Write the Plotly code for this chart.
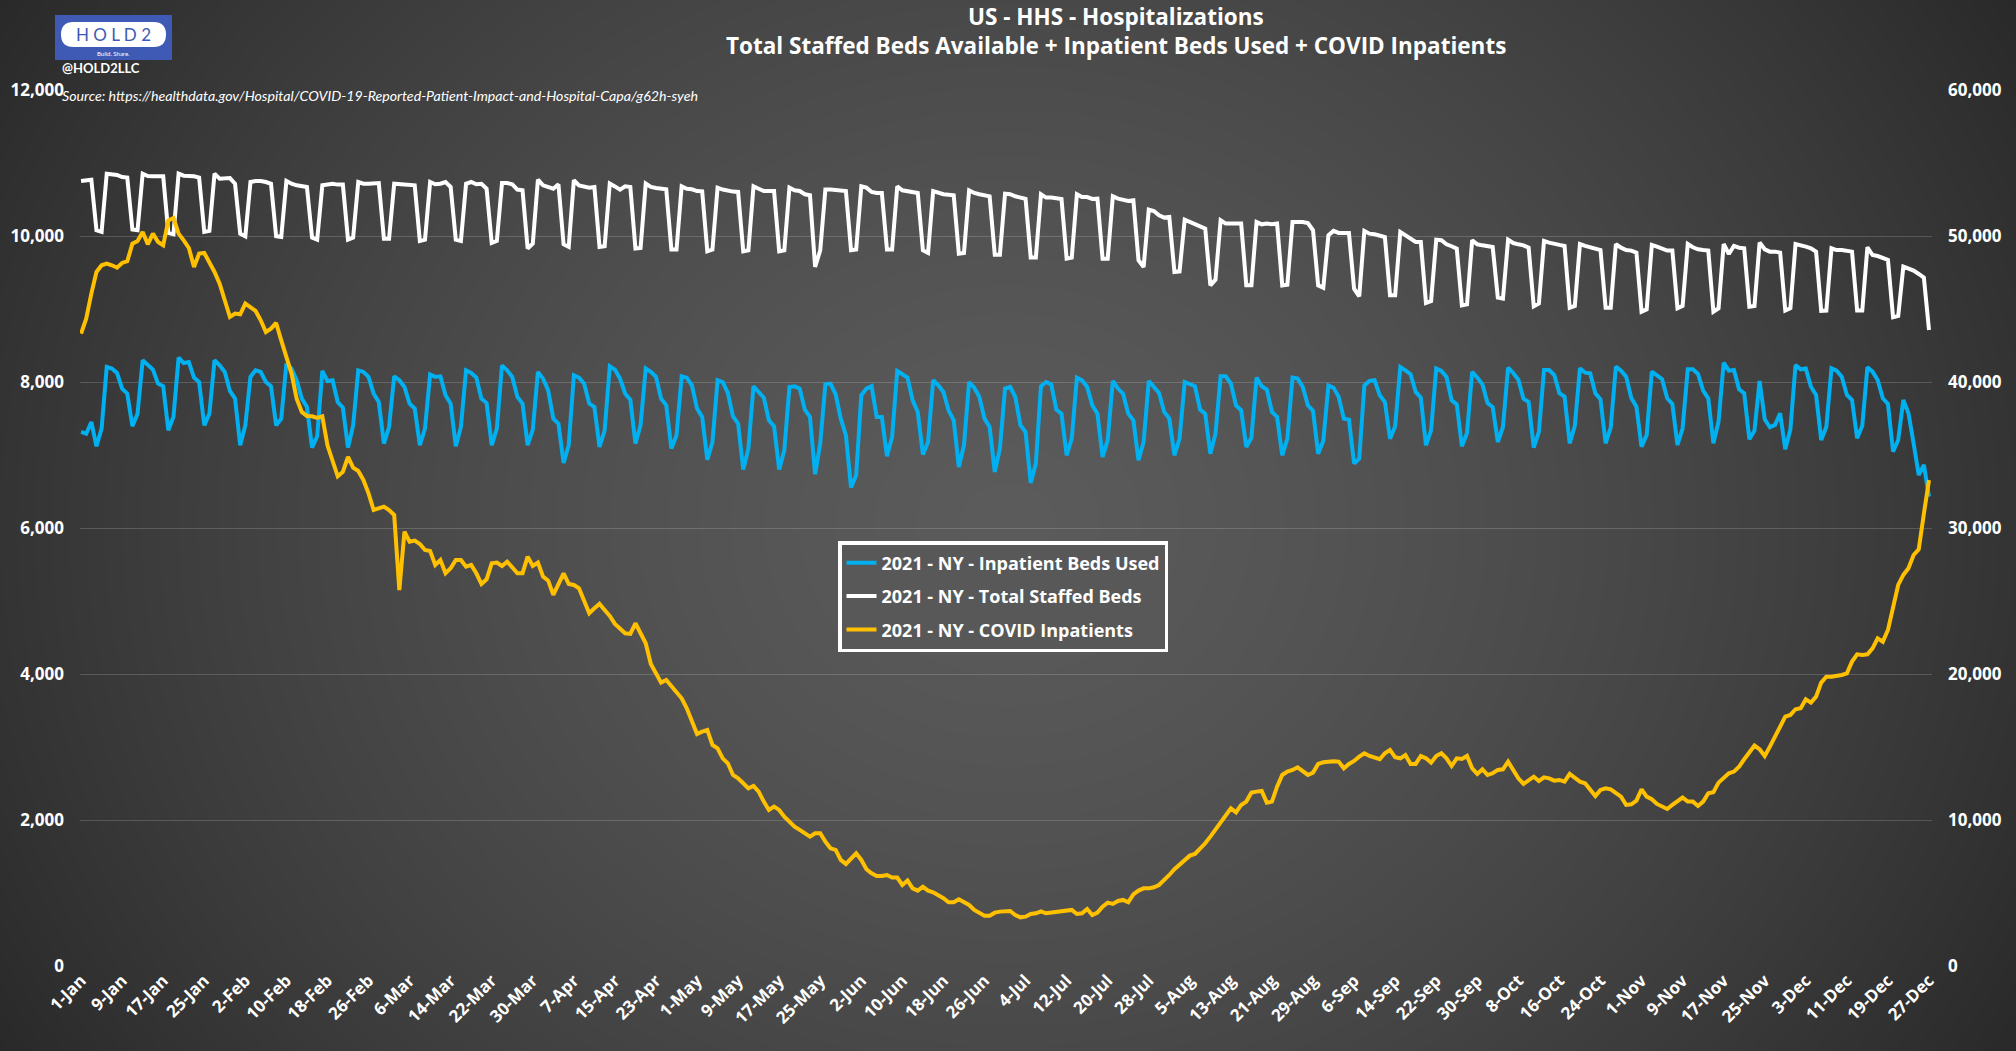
import base64
import struct
import zlib

import numpy as np
import pandas as pd
import plotly.graph_objects as go

W = 2016
H = 1051

DAYS = pd.date_range("2021-01-01", periods=361)

TICK_LABELS = [
    "1-Jan", "9-Jan", "17-Jan", "25-Jan", "2-Feb", "10-Feb", "18-Feb", "26-Feb", "6-Mar", "14-Mar",
    "22-Mar", "30-Mar", "7-Apr", "15-Apr", "23-Apr", "1-May", "9-May", "17-May", "25-May", "2-Jun",
    "10-Jun", "18-Jun", "26-Jun", "4-Jul", "12-Jul", "20-Jul", "28-Jul", "5-Aug", "13-Aug", "21-Aug",
    "29-Aug", "6-Sep", "14-Sep", "22-Sep", "30-Sep", "8-Oct", "16-Oct", "24-Oct", "1-Nov", "9-Nov",
    "17-Nov", "25-Nov", "3-Dec", "11-Dec", "19-Dec", "27-Dec",
]

LEFT_TICKS = [0, 2000, 4000, 6000, 8000, 10000, 12000]
RIGHT_TICKS = [0, 10000, 20000, 30000, 40000, 50000, 60000]

# first row is 1-5 Jan then one row per week
INPATIENT_BEDS = [
    36600, 36480, 37280, 35620, 36830,
    41050, 40940, 40640, 39570, 39220, 36990, 37850,
    41510, 41160, 40870, 39910, 39730, 36710, 37630,
    41690, 41320, 41390, 40320, 40020, 37050, 37850,
    41510, 41160, 40710, 39410, 38880, 35690, 37050,
    40370, 40820, 40710, 40020, 39730, 37050, 37510,
    41280, 40940, 40140, 38880, 38310, 35530, 36300,
    40780, 40090, 40140, 38650, 38260, 35530, 37050,
    40820, 40710, 40370, 39220, 38650, 35800, 36940,
    40410, 40140, 39680, 38540, 38200, 35690, 36830,
    40530, 40370, 40410, 39110, 38540, 35620, 36940,
    40820, 40640, 40320, 38880, 38580, 35690, 36830,
    41160, 40820, 40370, 39000, 38540, 35690, 36760,
    40710, 40250, 39450, 37510, 37170, 34480, 35690,
    40480, 40320, 39910, 38540, 38310, 35570, 36710,
    41100, 40870, 40250, 39220, 38810, 35800, 37060,
    40940, 40710, 40370, 38880, 38420, 35460, 36370,
    40410, 40320, 39790, 38200, 37630, 34700, 35910,
    40140, 40020, 39270, 37670, 37170, 34020, 35460,
    39730, 39340, 38950, 37400, 36990, 34020, 35340,
    39680, 39730, 39570, 38130, 37630, 33700, 35800,
    39860, 39910, 39180, 37510, 36370, 32790, 33630,
    39110, 39570, 39730, 37630, 37630, 34930, 36260,
    40780, 40550, 40320, 38770, 37970, 35050, 35910,
    40140, 39790, 39340, 38080, 37400, 34200, 35690,
    40020, 39630, 39000, 37510, 36940, 33860, 35460,
    39570, 39680, 39000, 37060, 36600, 33110, 34430,
    39730, 40020, 39860, 38130, 37850, 35000, 36140,
    40320, 40140, 39680, 38420, 37850, 34890, 36030,
    40090, 39570, 39220, 37850, 37400, 34660, 35910,
    40090, 39680, 39270, 37970, 37510, 35000, 36140,
    40020, 39910, 39730, 38130, 37850, 35110, 36480,
    40410, 40410, 39910, 38420, 38080, 35570, 36210,
    40320, 39730, 39500, 37970, 37630, 35000, 36140,
    40320, 40250, 39680, 38420, 38040, 35110, 35980,
    39790, 39630, 39000, 37510, 37440, 34430, 34770,
    39790, 40090, 40140, 39110, 38650, 36140, 36990,
    41050, 40820, 40550, 39340, 38950, 35690, 36710,
    40940, 40780, 40370, 38770, 38490, 35620, 36530,
    40710, 40320, 39860, 38580, 38310, 35910, 36940,
    41000, 40640, 40180, 38880, 38650, 35530, 36600,
    40840, 40840, 40500, 39250, 39020, 35820, 37010,
    40960, 40660, 40620, 39250, 38840, 35820, 36920,
    41070, 40800, 40390, 38930, 38330, 35590, 36390,
    40730, 40500, 40210, 38900, 38520, 35710, 36850,
    40890, 40890, 40570, 39430, 38900, 35820, 37310,
    41350, 40800, 40840, 39520, 39250, 36100, 36690,
    40090, 37470, 36920, 37080, 37880, 35410, 36780,
    41190, 40890, 40940, 39700, 39130, 36050, 36960,
    40960, 40800, 40390, 39130, 38790, 36160, 37030,
    41030, 40730, 40160, 38900, 38520, 35250, 36050,
    38790, 37880, 35820, 33650, 34340, 32170,
]

STAFFED_BEDS = [
    53790, 53830, 53880, 50410, 50300,
    54290, 54250, 54200, 54060, 54020, 50460, 50410,
    54290, 54130, 54110, 54110, 54110, 50230, 50140,
    54290, 54150, 54130, 54110, 54020, 50300, 50370,
    54290, 53950, 53990, 53990, 53600, 50180, 50000,
    53720, 53790, 53790, 53720, 53600, 50000, 49950,
    53790, 53600, 53490, 53420, 53380, 49910, 49770,
    53490, 53560, 53600, 53540, 53540, 49770, 49910,
    53720, 53600, 53600, 53650, 53650, 49840, 49840,
    53600, 53560, 53540, 53490, 53490, 49680, 49770,
    53720, 53560, 53600, 53720, 53380, 49770, 49680,
    53600, 53720, 53560, 53600, 53260, 49540, 49680,
    53650, 53650, 53560, 53200, 53150, 49160, 49500,
    53880, 53490, 53380, 53260, 53560, 49450, 49270,
    53840, 53490, 53420, 53330, 53380, 49270, 49320,
    53610, 53420, 53200, 53420, 53380, 49160, 49200,
    53610, 53380, 53310, 53260, 53220, 49090, 49090,
    53420, 53260, 53220, 53100, 53080, 48970, 49090,
    53330, 53200, 53100, 53060, 53040, 48970, 49040,
    53420, 53260, 53100, 53100, 53100, 48970, 49040,
    53330, 53150, 53100, 52880, 52810, 47900, 49040,
    53200, 53200, 53150, 53150, 53100, 49040, 49090,
    53420, 53330, 53040, 52970, 52970, 49090, 49090,
    53420, 53150, 53080, 53040, 52970, 49040, 48860,
    53100, 52970, 52880, 52850, 52810, 48810, 48860,
    53150, 52970, 52880, 52810, 52740, 48740, 48740,
    52920, 52880, 52740, 52650, 52560, 48540, 48540,
    52880, 52650, 52650, 52600, 52560, 48470, 48540,
    52880, 52690, 52690, 52560, 52580, 48470, 48470,
    52740, 52580, 52470, 52420, 52470, 48360, 47900,
    51830, 51730, 51440, 51280, 51320, 47560, 47600,
    51140, 50980, 50870, 50640, 50530, 46640, 47030,
    51100, 50870, 50870, 50870, 50870, 46640, 46640,
    50980, 50820, 50870, 50820, 50870, 46640, 46690,
    50980, 50980, 50980, 50910, 50410, 46640, 46480,
    50070, 50370, 50230, 50230, 50230, 46410, 45890,
    50370, 50180, 50140, 50070, 49950, 45960, 45960,
    50300, 50070, 49840, 49610, 49610, 45430, 45570,
    49770, 49730, 49450, 49320, 49160, 45270, 45340,
    49730, 49450, 49380, 49320, 49270, 45800, 45730,
    49770, 49540, 49450, 49380, 49220, 45200, 45390,
    49680, 49570, 49520, 49410, 49340, 45110, 45230,
    49470, 49340, 49250, 49110, 49060, 45110, 45110,
    49470, 49220, 49060, 49020, 48880, 44840, 45000,
    49410, 49290, 49180, 49020, 49020, 45070, 45230,
    49470, 49250, 49110, 49060, 49020, 44840, 45070,
    49470, 48790, 49340, 49220, 49180, 45180, 45230,
    49570, 49110, 48950, 48950, 48880, 44910, 45070,
    49470, 49410, 49290, 49180, 48950, 44890, 44910,
    49180, 49060, 49060, 49020, 48950, 44910, 44910,
    49250, 48720, 48650, 48490, 48380, 44450, 44540,
    47920, 47810, 47650, 47420, 47170, 43580,
]

COVID_INPATIENTS = [
    8667, 8872, 9215, 9511, 9603, 9625, 9603, 9571, 9635, 9658,
    9899, 9936, 10059, 9890, 10036, 9922, 9877, 10219, 10251, 10036,
    9945, 9840, 9580, 9763, 9772, 9648, 9511, 9352, 9123, 8895,
    8941, 8931, 9078, 9032, 8977, 8849, 8689, 8735, 8813, 8575,
    8324, 8119, 7776, 7594, 7539, 7534, 7511, 7534, 7137, 6932,
    6712, 6772, 6977, 6831, 6785, 6662, 6479, 6251, 6274, 6297,
    6251, 6183, 5155, 5954, 5817, 5831, 5785, 5703, 5690, 5498,
    5566, 5384, 5452, 5566, 5566, 5475, 5498, 5384, 5237, 5301,
    5521, 5530, 5484, 5543, 5466, 5384, 5384, 5612, 5484, 5530,
    5338, 5283, 5087, 5224, 5384, 5237, 5224, 5178, 5018, 4836,
    4904, 4964, 4881, 4799, 4690, 4630, 4562, 4553, 4699, 4562,
    4425, 4142, 4023, 3886, 3922, 3840, 3749, 3671, 3534, 3365,
    3183, 3215, 3238, 3032, 2986, 2849, 2781, 2621, 2576, 2507,
    2438, 2470, 2393, 2256, 2142, 2187, 2142, 2050, 1982, 1913,
    1868, 1822, 1776, 1822, 1822, 1708, 1616, 1594, 1457, 1402,
    1479, 1548, 1457, 1329, 1274, 1237, 1237, 1251, 1215, 1215,
    1114, 1174, 1068, 1037, 1091, 1037, 1014, 977, 932, 877,
    877, 918, 872, 840, 772, 726, 694, 694, 735, 749,
    758, 758, 703, 671, 680, 717, 726, 753, 726, 735,
    740, 749, 758, 772, 717, 726, 785, 703, 735, 817,
    872, 854, 895, 909, 877, 986, 1037, 1068, 1068, 1082,
    1114, 1174, 1251, 1329, 1388, 1457, 1516, 1539, 1603, 1685,
    1776, 1868, 1959, 2073, 2164, 2110, 2210, 2256, 2379, 2393,
    2402, 2242, 2256, 2461, 2621, 2667, 2689, 2726, 2680, 2621,
    2653, 2772, 2795, 2804, 2808, 2804, 2712, 2772, 2813, 2872,
    2918, 2881, 2863, 2836, 2918, 2964, 2863, 2849, 2895, 2772,
    2772, 2881, 2849, 2790, 2881, 2918, 2849, 2744, 2849, 2840,
    2881, 2712, 2635, 2699, 2621, 2644, 2690, 2699, 2804, 2699,
    2575, 2498, 2553, 2598, 2539, 2589, 2575, 2543, 2553, 2530,
    2635, 2575, 2530, 2507, 2425, 2333, 2416, 2438, 2425, 2379,
    2324, 2210, 2219, 2269, 2425, 2324, 2288, 2224, 2187, 2155,
    2210, 2269, 2311, 2256, 2256, 2196, 2256, 2370, 2384, 2516,
    2589, 2644, 2667, 2735, 2836, 2941, 3023, 2973, 2881, 3009,
    3146, 3283, 3420, 3443, 3521, 3534, 3658, 3612, 3694, 3886,
    3968, 3968, 3977, 3991, 4014, 4174, 4274, 4265, 4274, 4356,
    4493, 4447, 4607, 4927, 5224, 5361, 5452, 5635, 5712, 6200,
    6660,
]

assert len(INPATIENT_BEDS) == len(STAFFED_BEDS) == len(COVID_INPATIENTS) == len(DAYS)

FONT = "Open Sans"
SMALL_FONT = "Lato"
BLUE = "#00B0F0"
GOLD = "#FFC000"
LOGO_BLUE = "#3F5AB5"


# plotly has no gradient page background, so make a grey png for it
def background_png():
    xx, yy = np.meshgrid(np.linspace(-1, 1, W), np.linspace(-1, 1, H))
    t = np.sqrt(xx**2 + (0.6 * yy) ** 2)
    grey = (92 - 20 * t - 20 * t**2).astype(np.uint8)
    raw = b"".join(b"\x00" + row.tobytes() for row in grey)

    def chunk(tag, data):
        body = tag + data
        return struct.pack(">I", len(data)) + body + struct.pack(">I", zlib.crc32(body))

    png = b"\x89PNG\r\n\x1a\n"
    png += chunk(b"IHDR", struct.pack(">IIBBBBB", W, H, 8, 0, 0, 0, 0))
    png += chunk(b"IDAT", zlib.compress(raw, 9))
    png += chunk(b"IEND", b"")
    return "data:image/png;base64," + base64.b64encode(png).decode()


def px(x):
    return x / W


def py(y):
    return 1 - y / H


def label(text, x, y, size, bold=True, italic=False, color="white", xanchor="center", family=SMALL_FONT):
    if bold:
        text = "<b>" + text + "</b>"
    if italic:
        text = "<i>" + text + "</i>"
    fig.add_annotation(text=text, x=px(x), y=py(y), xref="paper", yref="paper", showarrow=False,
                       xanchor=xanchor, yanchor="middle", align="center",
                       font=dict(family=family, size=size, color=color))


fig = go.Figure()

fig.add_trace(go.Scatter(x=DAYS, y=INPATIENT_BEDS, name="<b>2021 - NY - Inpatient Beds Used</b>", mode="lines",
                         line=dict(color=BLUE, width=4), xaxis="x", yaxis="y", legendgroup="a"))
fig.add_trace(go.Scatter(x=DAYS, y=STAFFED_BEDS, name="<b>2021 - NY - Total Staffed Beds</b>", mode="lines",
                         line=dict(color="white", width=4), xaxis="x", yaxis="y", legendgroup="b"))
# overlay axis so the gold line sits on top
fig.add_trace(go.Scatter(x=DAYS, y=COVID_INPATIENTS, name="<b>2021 - NY - COVID Inpatients</b>", mode="lines",
                         line=dict(color=GOLD, width=4), xaxis="x", yaxis="y2", legendgroup="c"))

grid = "rgba(255,255,255,0.17)"
tick_font = dict(family=FONT, size=17, color="white", weight="bold")
y_domain = [py(966.3), py(90.3)]

fig.update_layout(
    width=W,
    height=H,
    margin=dict(l=0, r=0, t=0, b=0),
    paper_bgcolor="#333333",
    plot_bgcolor="rgba(0,0,0,0)",
    hovermode=False,
    showlegend=True,
    xaxis=dict(
        domain=[px(80), px(1932)],
        type="date",
        range=[DAYS[0] - pd.Timedelta(hours=5), DAYS[-1] + pd.Timedelta(hours=14)],
        tickmode="array",
        tickvals=list(DAYS[::8]),
        ticktext=TICK_LABELS,
        tickangle=-45,
        tickfont=tick_font,
        showgrid=False,
        zeroline=False,
        automargin=False,
        ticks="",
    ),
    yaxis=dict(
        domain=y_domain,
        side="right",
        range=[0, 60000],
        tickmode="array",
        tickvals=RIGHT_TICKS,
        tickformat=",d",
        tickfont=tick_font,
        gridcolor=grid,
        gridwidth=1,
        zeroline=False,
        automargin=False,
        ticklabelstandoff=15,
    ),
    yaxis2=dict(
        domain=y_domain,
        side="left",
        overlaying="y",
        range=[0, 12000],
        tickmode="array",
        tickvals=LEFT_TICKS,
        tickformat=",d",
        tickfont=tick_font,
        showgrid=False,
        zeroline=False,
        automargin=False,
        ticklabelstandoff=15,
    ),
    legend=dict(
        x=px(838),
        y=py(541),
        xanchor="left",
        yanchor="top",
        bgcolor="#585858",
        bordercolor="white",
        borderwidth=3.5,
        font=dict(family=FONT, size=18, color="white"),
        tracegroupgap=7,
        traceorder="grouped",
        itemwidth=30,
        entrywidth=288,
        entrywidthmode="pixels",
    ),
    images=[dict(source=background_png(), xref="paper", yref="paper", x=0, y=1, sizex=1, sizey=1,
                 xanchor="left", yanchor="top", sizing="stretch", layer="below")],
)

# logo block top left
fig.add_shape(type="rect", xref="paper", yref="paper", x0=px(55), x1=px(172), y0=py(60), y1=py(15),
              fillcolor=LOGO_BLUE, line_width=0)
x0, x1, y0, y1 = px(61), px(166), py(22), py(47)
rx, ry = px(12.5), 12.5 / H
fig.add_shape(type="path", xref="paper", yref="paper", fillcolor="white", line_width=0,
              path=f"M {x0 + rx} {y0} L {x1 - rx} {y0} Q {x1} {y0} {x1} {y0 - ry} Q {x1} {y1} {x1 - rx} {y1} "
                   f"L {x0 + rx} {y1} Q {x0} {y1} {x0} {y1 + ry} Q {x0} {y0} {x0 + rx} {y0} Z")
label("H O L D 2", 113, 34.5, 17, bold=False, color=LOGO_BLUE)
label("Build. Share.", 113, 53, 6, bold=False)
label("@HOLD2LLC", 101, 68, 13)

label("US - HHS - Hospitalizations", 1116, 17, 22.5, family=FONT)
label("Total Staffed Beds Available + Inpatient Beds Used + COVID Inpatients", 1116, 45, 22.5, family=FONT)
label("Source: https://healthdata.gov/Hospital/COVID-19-Reported-Patient-Impact-and-Hospital-Capa/g62h-syeh",
      60, 96, 14.2, bold=False, italic=True, xanchor="left")

fig.write_html("out.html", config={"displayModeBar": False},
               post_script="document.body.style.margin='0';document.body.style.overflow='hidden';")
